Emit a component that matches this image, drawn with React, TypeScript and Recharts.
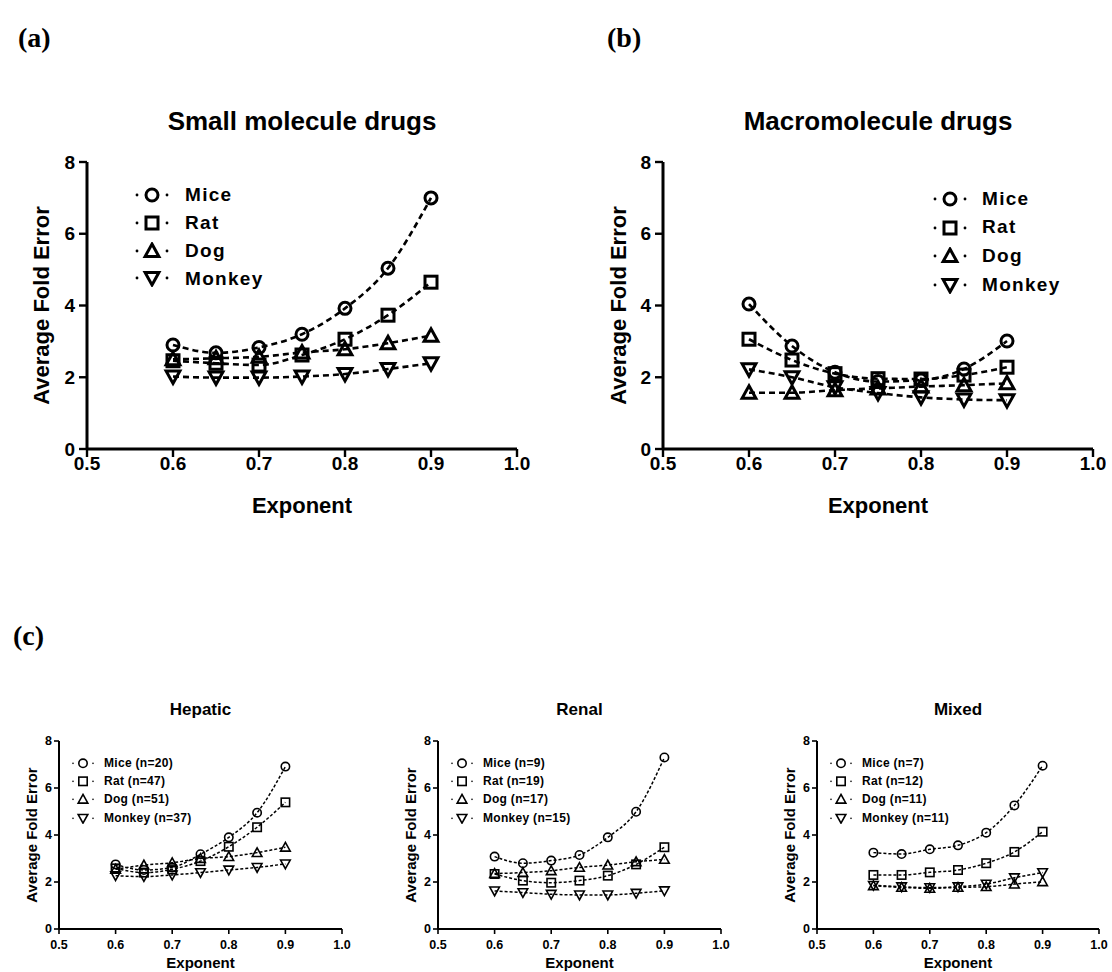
import React from "react";
import { LineChart, Line, XAxis, YAxis } from "recharts";

// exponent values on the x axis
const EXPONENTS = [0.6, 0.65, 0.7, 0.75, 0.8, 0.85, 0.9];
const X_TICKS = [0.5, 0.6, 0.7, 0.8, 0.9, 1.0];
const Y_TICKS = [0, 2, 4, 6, 8];

const SPECIES = ["Mice", "Rat", "Dog", "Monkey"];

// (a) small molecule drugs
const SMALL_MICE = [2.9, 2.68, 2.83, 3.2, 3.92, 5.04, 7.0];
const SMALL_RAT = [2.46, 2.39, 2.34, 2.62, 3.06, 3.73, 4.65];
const SMALL_DOG = [2.5, 2.53, 2.57, 2.69, 2.78, 2.95, 3.16];
const SMALL_MONKEY = [2.02, 1.99, 1.99, 2.02, 2.09, 2.23, 2.39];

// (b) macromolecule drugs
const MACRO_MICE = [4.04, 2.87, 2.14, 1.88, 1.92, 2.23, 3.01];
const MACRO_RAT = [3.06, 2.48, 2.1, 1.96, 1.95, 2.06, 2.28];
const MACRO_DOG = [1.57, 1.57, 1.64, 1.69, 1.74, 1.78, 1.83];
const MACRO_MONKEY = [2.22, 2.0, 1.72, 1.56, 1.44, 1.38, 1.36];

// (c) hepatic / renal / mixed
const HEPATIC_MICE = [2.75, 2.51, 2.62, 3.18, 3.9, 4.95, 6.91];
const HEPATIC_RAT = [2.58, 2.4, 2.54, 2.89, 3.5, 4.33, 5.39];
const HEPATIC_DOG = [2.54, 2.72, 2.82, 3.0, 3.08, 3.25, 3.48];
const HEPATIC_MONKEY = [2.27, 2.23, 2.3, 2.4, 2.51, 2.62, 2.77];
const HEPATIC_N = [20, 47, 51, 37];

const RENAL_MICE = [3.08, 2.8, 2.91, 3.15, 3.9, 4.99, 7.3];
const RENAL_RAT = [2.34, 2.06, 1.97, 2.06, 2.27, 2.75, 3.48];
const RENAL_DOG = [2.36, 2.4, 2.48, 2.62, 2.72, 2.86, 2.96];
const RENAL_MONKEY = [1.62, 1.55, 1.48, 1.45, 1.45, 1.52, 1.63];
const RENAL_N = [9, 19, 17, 15];

const MIXED_MICE = [3.25, 3.19, 3.39, 3.56, 4.1, 5.26, 6.95];
const MIXED_RAT = [2.3, 2.3, 2.41, 2.51, 2.8, 3.28, 4.14];
const MIXED_DOG = [1.84, 1.77, 1.73, 1.77, 1.8, 1.91, 2.01];
const MIXED_MONKEY = [1.86, 1.8, 1.76, 1.8, 1.91, 2.18, 2.4];
const MIXED_N = [7, 12, 11, 11];

type Shape = "circle" | "square" | "up" | "down";
const SHAPES: Shape[] = ["circle", "square", "up", "down"];
const KEYS = ["mice", "rat", "dog", "monkey"];

const FONT = "'Liberation Sans', Arial, sans-serif";

interface Style {
  axisW: number;
  tickSize: number;
  tickMargin: number;
  tickFont: number;
  labelFont: number;
  lineW: number;
  dash: string;
  r: number;
  markerW: number;
  legendFont: number;
  legendDot: number;
  letter: number;
}

const BIG: Style = {
  axisW: 3,
  tickSize: 8,
  tickMargin: 0,
  tickFont: 19,
  labelFont: 22,
  lineW: 2.6,
  dash: "6 4",
  r: 6,
  markerW: 3,
  legendFont: 19,
  legendDot: 15,
  letter: 1.3,
};

const SMALL: Style = {
  axisW: 2,
  tickSize: 5,
  tickMargin: 6,
  tickFont: 12.5,
  labelFont: 15,
  lineW: 1.5,
  dash: "3 2",
  r: 4.2,
  markerW: 1.6,
  legendFont: 12,
  legendDot: 10,
  letter: 0.3,
};

function toRows(values: number[][]) {
  return EXPONENTS.map((x, i) => {
    const row: Record<string, number> = { x };
    KEYS.forEach((k, j) => (row[k] = values[j][i]));
    return row;
  });
}

function Marker({ cx, cy, shape, r, sw }: { cx: number; cy: number; shape: Shape; r: number; sw: number }) {
  const common = { fill: "none", stroke: "#000", strokeWidth: sw };
  if (shape === "circle") return <circle cx={cx} cy={cy} r={r} {...common} />;
  if (shape === "square")
    return <rect x={cx - r} y={cy - r} width={2 * r} height={2 * r} {...common} />;
  const h = r * 1.15;
  const w = r * 1.15;
  if (shape === "up")
    return <path d={`M${cx},${cy - h} L${cx + w},${cy + h * 0.8} L${cx - w},${cy + h * 0.8} Z`} {...common} />;
  return <path d={`M${cx},${cy + h} L${cx + w},${cy - h * 0.8} L${cx - w},${cy - h * 0.8} Z`} {...common} />;
}

interface PanelProps {
  left: number;
  top: number;
  width: number;
  height: number;
  margin: { top: number; right: number; bottom: number; left: number };
  yAxisW: number;
  xAxisH: number;
  yLabelOffset: number;
  xLabelOffset: number;
  st: Style;
  values: number[][];
  labels: string[];
  title: string;
  titleY: number;
  titleFont: number;
  legendX: number; // symbol centre, relative to plot left
  legendTextX: number;
  legendY: number; // first row centre, relative to plot top
  legendGap: number;
}

function Panel(p: PanelProps) {
  const data = toRows(p.values);
  const st = p.st;
  const plotLeft = p.left + p.margin.left + p.yAxisW;
  const plotTop = p.top + p.margin.top;
  const plotW = p.width - p.margin.left - p.margin.right - p.yAxisW;
  const axisProps = {
    axisLine: { stroke: "#000", strokeWidth: st.axisW },
    tickLine: { stroke: "#000", strokeWidth: st.axisW * 0.8 },
    tick: { fontSize: st.tickFont, fontWeight: 700, fill: "#000", fontFamily: FONT },
    tickSize: st.tickSize,
  };
  return (
    <>
      <div
        style={{
          position: "absolute",
          left: plotLeft,
          top: p.titleY - p.titleFont * 0.6,
          width: plotW,
          textAlign: "center",
          fontSize: p.titleFont,
          fontWeight: 700,
          lineHeight: `${p.titleFont * 1.2}px`,
        }}
      >
        {p.title}
      </div>
      <div style={{ position: "absolute", left: p.left, top: p.top }}>
        <LineChart width={p.width} height={p.height} data={data} margin={p.margin}>
          <XAxis
            dataKey="x"
            type="number"
            domain={[0.5, 1]}
            ticks={X_TICKS}
            tickFormatter={(v: number) => v.toFixed(1)}
            height={p.xAxisH}
            tickMargin={st.tickMargin}
            interval={0}
            {...axisProps}
            label={{
              value: "Exponent",
              position: "insideTop",
              offset: p.xLabelOffset,
              style: { fontSize: st.labelFont, fontWeight: 700, fill: "#000", fontFamily: FONT },
            }}
          />
          <XAxis
            xAxisId="top"
            orientation="top"
            dataKey="x"
            type="number"
            domain={[0.5, 1]}
            height={0}
            tick={false}
            tickLine={false}
            axisLine={{ stroke: "#000", strokeWidth: st.axisW }}
          />
          <YAxis
            type="number"
            domain={[0, 8]}
            ticks={Y_TICKS}
            width={p.yAxisW}
            tickMargin={st.tickMargin > 0 ? 2 : 4}
            interval={0}
            {...axisProps}
            label={{
              value: "Average Fold Error",
              angle: -90,
              position: "insideLeft",
              offset: p.yLabelOffset,
              style: { textAnchor: "middle", fontSize: st.labelFont, fontWeight: 700, fill: "#000", fontFamily: FONT },
            }}
          />
          <YAxis
            yAxisId="right"
            orientation="right"
            type="number"
            domain={[0, 8]}
            width={0}
            tick={false}
            tickLine={false}
            axisLine={{ stroke: "#000", strokeWidth: st.axisW }}
          />
          {KEYS.map((k, j) => (
            <Line
              key={k}
              dataKey={k}
              type="monotone"
              stroke="#000"
              strokeWidth={st.lineW}
              strokeDasharray={st.dash}
              isAnimationActive={false}
              dot={(d: any) => (
                <Marker key={`${k}-${d.index}`} cx={d.cx} cy={d.cy} shape={SHAPES[j]} r={st.r} sw={st.markerW} />
              )}
              activeDot={false}
            />
          ))}
        </LineChart>
      </div>
      {p.labels.map((lab, j) => {
        const cy = plotTop + p.legendY + j * p.legendGap;
        const cx = plotLeft + p.legendX;
        const half = st.legendDot + 4;
        return (
          <React.Fragment key={lab}>
            <svg
              width={half * 2}
              height={st.r * 3}
              style={{ position: "absolute", left: cx - half, top: cy - st.r * 1.5 }}
            >
              <circle cx={half - st.legendDot} cy={st.r * 1.5} r={st.lineW * 0.55} fill="#000" />
              <circle cx={half + st.legendDot} cy={st.r * 1.5} r={st.lineW * 0.55} fill="#000" />
              <Marker cx={half} cy={st.r * 1.5} shape={SHAPES[j]} r={st.r} sw={st.markerW} />
            </svg>
            <div
              style={{
                position: "absolute",
                left: plotLeft + p.legendTextX,
                top: cy - p.legendGap / 2,
                lineHeight: `${p.legendGap}px`,
                fontSize: st.legendFont,
                fontWeight: 700,
                letterSpacing: st.letter,
                whiteSpace: "nowrap",
              }}
            >
              {lab}
            </div>
          </React.Fragment>
        );
      })}
    </>
  );
}

const letterStyle = (left: number, top: number): React.CSSProperties => ({
  position: "absolute",
  left,
  top,
  fontFamily: "'Liberation Serif', 'DejaVu Serif', serif",
  fontWeight: 700,
  fontSize: 28,
  lineHeight: "32px",
});

export default function App() {
  const smallLabels = (ns: number[]) => SPECIES.map((s, i) => `${s} (n=${ns[i]})`);
  const smallCommon = {
    top: 725,
    height: 247,
    yAxisW: 59,
    xAxisH: 43,
    yLabelOffset: 32,
    xLabelOffset: 28,
    st: SMALL,
    titleY: 710,
    titleFont: 17,
    legendX: 24,
    legendTextX: 45,
    legendY: 22,
    legendGap: 18.3,
  };
  return (
    <div
      style={{
        position: "absolute",
        left: 0,
        top: 0,
        width: 1112,
        height: 972,
        overflow: "hidden",
        background: "#fff",
        fontFamily: FONT,
        color: "#000",
      }}
    >
      <div style={letterStyle(18, 22)}>(a)</div>
      <div style={letterStyle(607, 22)}>(b)</div>
      <div style={letterStyle(13, 620)}>(c)</div>

      <Panel
        left={0}
        top={130}
        width={545}
        height={410}
        margin={{ top: 32, right: 28, bottom: 21, left: 0 }}
        yAxisW={87}
        xAxisH={70}
        yLabelOffset={41}
        xLabelOffset={48}
        st={BIG}
        values={[SMALL_MICE, SMALL_RAT, SMALL_DOG, SMALL_MONKEY]}
        labels={SPECIES}
        title="Small molecule drugs"
        titleY={122}
        titleFont={26}
        legendX={65}
        legendTextX={98}
        legendY={33}
        legendGap={27.8}
      />
      <Panel
        left={576}
        top={130}
        width={530}
        height={410}
        margin={{ top: 32, right: 13, bottom: 21, left: 0 }}
        yAxisW={87}
        xAxisH={70}
        yLabelOffset={42}
        xLabelOffset={48}
        st={BIG}
        values={[MACRO_MICE, MACRO_RAT, MACRO_DOG, MACRO_MONKEY]}
        labels={SPECIES}
        title="Macromolecule drugs"
        titleY={122}
        titleFont={26}
        legendX={287}
        legendTextX={319}
        legendY={37}
        legendGap={28.7}
      />
      <Panel
        {...smallCommon}
        left={0}
        width={360}
        margin={{ top: 16, right: 18, bottom: 0, left: 0 }}
        values={[HEPATIC_MICE, HEPATIC_RAT, HEPATIC_DOG, HEPATIC_MONKEY]}
        labels={smallLabels(HEPATIC_N)}
        title="Hepatic"
      />
      <Panel
        {...smallCommon}
        left={379}
        width={360}
        margin={{ top: 16, right: 18, bottom: 0, left: 0 }}
        values={[RENAL_MICE, RENAL_RAT, RENAL_DOG, RENAL_MONKEY]}
        labels={smallLabels(RENAL_N)}
        title="Renal"
      />
      <Panel
        {...smallCommon}
        left={758}
        width={354}
        margin={{ top: 16, right: 13, bottom: 0, left: 0 }}
        values={[MIXED_MICE, MIXED_RAT, MIXED_DOG, MIXED_MONKEY]}
        labels={smallLabels(MIXED_N)}
        title="Mixed"
      />
    </div>
  );
}
